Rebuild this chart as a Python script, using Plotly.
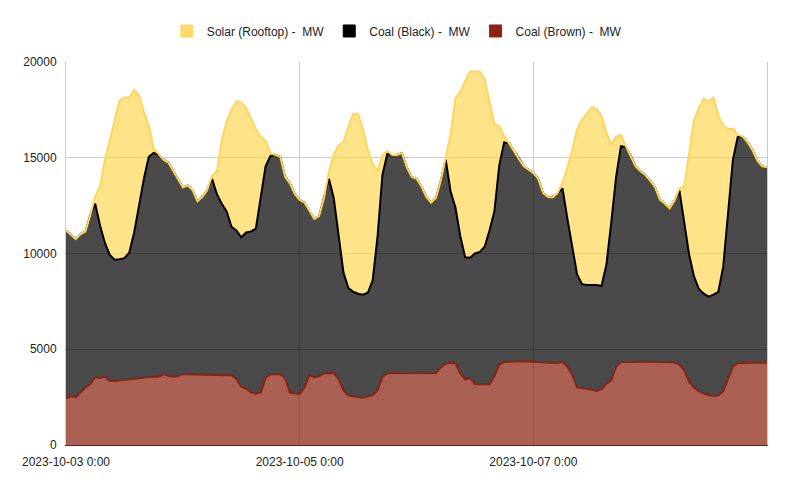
import pandas as pd
import plotly.graph_objects as go

# Hourly timestamps 2023-10-03 00:00 .. 2023-10-09 00:00
times = pd.date_range("2023-10-03 00:00", "2023-10-09 00:00", freq="h")

# Coal (Brown) MW
coal_brown = [2440,2540,2500,2740,3000,3180,3550,3500,3570,3360,
 3340,3370,3400,3430,3480,3510,3540,3560,3570,3570,
 3690,3620,3570,3600,3700,3700,3690,3690,3690,3670,
 3660,3650,3650,3640,3650,3450,3050,2950,2750,2680,
 2750,3500,3690,3700,3700,3500,2730,2700,2670,3000,
 3650,3530,3600,3742,3742,3742,3450,2850,2580,2530,
 2500,2470,2520,2600,2850,3550,3742,3745,3745,3750,
 3750,3750,3750,3745,3745,3750,3760,4050,4250,4300,
 4280,3750,3420,3500,3185,3170,3170,3170,3600,4200,
 4334,4350,4360,4370,4370,4360,4340,4340,4320,4300,
 4280,4300,4330,4090,3650,3010,2970,2950,2900,2820,
 2920,3200,3380,4100,4334,4340,4350,4350,4360,4350,
 4350,4350,4340,4330,4320,4310,4200,3900,3306,3000,
 2800,2680,2600,2575,2590,2800,3500,4100,4264,4300,
 4300,4300,4300,4300,4300]

# Stack top of Coal (Black) (brown + black), MW
coal_black_top = [11200,10950,10750,11000,11150,12000,12600,11450,10550,9930,
 9680,9700,9760,10050,11100,12500,13900,15050,15250,15150,
 14900,14750,14300,13900,13450,13550,13300,12720,12950,13300,
 13900,13100,12600,12200,11400,11200,10850,11100,11150,11300,
 13000,14550,15100,15150,15050,14000,13650,13100,12800,12650,
 12200,11800,11950,12900,13900,12900,10950,9000,8200,8000,
 7900,7850,7950,8600,10900,14100,15200,15150,15150,15250,
 14500,14000,13900,13500,12950,12650,12900,13800,14900,13250,
 12400,10900,9800,9780,10000,10080,10350,11200,12200,14600,
 15800,15750,15350,15000,14550,14380,14200,13900,13150,12950,
 12930,13150,13400,11800,10300,8900,8400,8350,8350,8350,
 8300,9400,11600,14000,15600,15550,15100,14550,14300,14100,
 13800,13450,12800,12600,12350,12750,13300,11700,9950,8800,
 8150,7900,7750,7850,8000,9300,12200,14900,16100,16100,
 15800,15400,14850,14550,14500]

# Stack top of Solar (Rooftop) (brown + black + solar), MW
solar_top = [11200,10950,10750,11000,11150,12000,13000,13500,14900,15900,
 16900,18000,18150,18150,18550,18250,17400,16700,15500,15200,
 14900,14750,14300,13900,13450,13550,13300,12720,12950,13300,
 14050,14300,15900,16900,17500,17950,17900,17600,17050,16500,
 16100,15900,15250,15150,15050,14000,13650,13100,12800,12650,
 12200,11800,11950,12900,14250,15150,15650,15850,16600,17300,
 17300,16500,15400,14700,14300,15150,15350,15150,15150,15250,
 14500,14000,13900,13500,12950,12650,12900,13800,15000,16200,
 18100,18450,19000,19500,19500,19500,19100,18000,16750,16650,
 16100,15750,15350,15000,14550,14380,14200,13900,13150,12950,
 12930,13150,13700,14500,15400,16500,17000,17300,17650,17550,
 17200,16300,15700,16100,16190,15600,15100,14550,14300,14100,
 13800,13450,12800,12600,12350,12750,13400,13500,15230,16950,
 17600,18100,17950,18150,17200,16700,16500,16520,16200,16100,
 15800,15400,14850,14550,14500]

series_names = ["Coal (Brown) -\u00a0 MW", "Coal (Black) -\u00a0 MW", "Solar (Rooftop) -\u00a0 MW"]
series_colors = ["#8B2312", "#000000", "#FFD966"]
x_tick_vals = ["2023-10-03 00:00", "2023-10-05 00:00", "2023-10-07 00:00"]
x_tick_text = ["2023-10-03 0:00", "2023-10-05 0:00", "2023-10-07 0:00"]

fig = go.Figure()
fig.add_trace(go.Scatter(x=times, y=coal_brown, name=series_names[0], mode="lines",
                         line=dict(color="#8B2312", width=2), fill="tozeroy",
                         fillcolor="rgba(139,35,18,0.72)", showlegend=False))
fig.add_trace(go.Scatter(x=times, y=coal_black_top, name=series_names[1], mode="lines",
                         line=dict(color="#000000", width=2), fill="tonexty",
                         fillcolor="rgba(0,0,0,0.71)", showlegend=False))
fig.add_trace(go.Scatter(x=times, y=solar_top, name=series_names[2], mode="lines",
                         line=dict(color="#FFD55A", width=2), fill="tonexty",
                         fillcolor="rgba(255,213,79,0.68)", showlegend=False))

# Square legend swatches (legend only)
for name, color in zip(reversed(series_names), reversed(series_colors)):
    fig.add_trace(go.Scatter(x=[None], y=[None], name=name, mode="markers",
                             marker=dict(symbol="square", size=12, color=color,
                                         line=dict(color=color, width=1)),
                             showlegend=True))

fig.update_layout(
    width=792, height=491,
    margin=dict(l=66, r=25, t=62, b=46),
    paper_bgcolor="white", plot_bgcolor="white",
    font=dict(family="Liberation Sans, Arial, sans-serif", size=12, color="#222222"),
    showlegend=True,
    legend=dict(orientation="h", x=0.472, xanchor="center", y=1.081, yanchor="middle",
                traceorder="normal", font=dict(size=12, color="#222222"),
                itemwidth=30),
    hovermode=False,
)
fig.update_xaxes(
    range=["2023-10-03 00:00", "2023-10-09 00:00"],
    tickvals=x_tick_vals, ticktext=x_tick_text,
    showgrid=True, gridcolor="#cccccc", gridwidth=1,
    showline=True, linecolor="#333333", linewidth=1,
    ticks="", zeroline=False, ticklabelstandoff=6,
)
fig.update_yaxes(
    range=[0, 20000], dtick=5000, tickformat="d",
    showgrid=True, gridcolor="#cccccc", gridwidth=1,
    showline=True, linecolor="#cccccc", linewidth=1, mirror=True,
    ticks="", zeroline=False, ticklabelstandoff=6,
)

fig.write_html("out.html")
